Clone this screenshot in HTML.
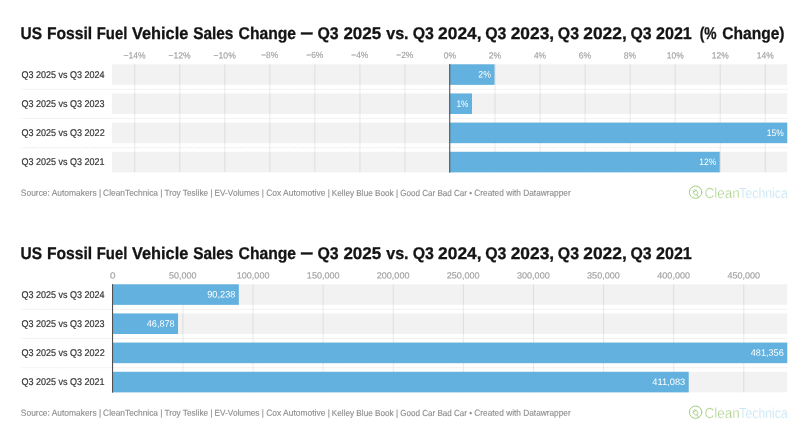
<!DOCTYPE html>
<html lang="en">
<head>
<meta charset="utf-8">
<title>US Fossil Fuel Vehicle Sales Change</title>
<style>
html,body{margin:0;padding:0;background:#fff;}
body{width:800px;height:445px;overflow:hidden;font-family:"Liberation Sans",sans-serif;}
svg{display:block;}
text{font-family:"Liberation Sans",sans-serif;text-rendering:geometricPrecision;}
.title{font-size:17.0px;font-weight:bold;fill:#141414;stroke:#141414;stroke-width:0.3px;}
.tick{font-size:9.0px;fill:#a2a2a2;stroke:#a2a2a2;stroke-width:0.15px;}
.lab{font-size:9.8px;fill:#333;stroke:#333;stroke-width:0.2px;}
.val{font-size:9.3px;fill:#fff;}
.foot{font-size:8.8px;fill:#8c8c8c;stroke:#8c8c8c;stroke-width:0.12px;}
.logo{font-size:14.6px;stroke:#fff;stroke-width:0.4px;paint-order:fill stroke;}
</style>
</head>
<body>
<svg width="800" height="445" viewBox="0 0 800 445">
<rect width="800" height="445" fill="#fff"/>
<text class="title" transform="translate(20.57 39.10) skewY(0.03)" textLength="21.54" lengthAdjust="spacingAndGlyphs">US</text>
<text class="title" transform="translate(46.95 39.10) skewY(0.03)" textLength="45.15" lengthAdjust="spacingAndGlyphs">Fossil</text>
<text class="title" transform="translate(96.76 39.10) skewY(0.03)" textLength="30.55" lengthAdjust="spacingAndGlyphs">Fuel</text>
<text class="title" transform="translate(131.99 39.10) skewY(0.03)" textLength="56.36" lengthAdjust="spacingAndGlyphs">Vehicle</text>
<text class="title" transform="translate(193.16 39.10) skewY(0.03)" textLength="40.28" lengthAdjust="spacingAndGlyphs">Sales</text>
<text class="title" transform="translate(238.56 39.10) skewY(0.03)" textLength="57.48" lengthAdjust="spacingAndGlyphs">Change</text>
<text class="title" transform="translate(301.00 38.10) skewY(0.03)" textLength="11.50" lengthAdjust="spacingAndGlyphs" style="stroke-width:0.55px">—</text>
<text class="title" transform="translate(317.45 39.10) skewY(0.03)" textLength="21.23" lengthAdjust="spacingAndGlyphs">Q3</text>
<text class="title" transform="translate(343.41 39.10) skewY(0.03)" textLength="37.86" lengthAdjust="spacingAndGlyphs">2025</text>
<text class="title" transform="translate(386.19 39.10) skewY(0.03)" textLength="22.42" lengthAdjust="spacingAndGlyphs">vs.</text>
<text class="title" transform="translate(412.65 39.10) skewY(0.03)" textLength="21.23" lengthAdjust="spacingAndGlyphs">Q3</text>
<text class="title" transform="translate(438.10 39.10) skewY(0.03)" textLength="43.46" lengthAdjust="spacingAndGlyphs">2024,</text>
<text class="title" transform="translate(485.25 39.10) skewY(0.03)" textLength="21.23" lengthAdjust="spacingAndGlyphs">Q3</text>
<text class="title" transform="translate(510.70 39.10) skewY(0.03)" textLength="43.46" lengthAdjust="spacingAndGlyphs">2023,</text>
<text class="title" transform="translate(557.85 39.10) skewY(0.03)" textLength="21.23" lengthAdjust="spacingAndGlyphs">Q3</text>
<text class="title" transform="translate(583.30 39.10) skewY(0.03)" textLength="43.46" lengthAdjust="spacingAndGlyphs">2022,</text>
<text class="title" transform="translate(630.45 39.10) skewY(0.03)" textLength="21.23" lengthAdjust="spacingAndGlyphs">Q3</text>
<text class="title" transform="translate(655.94 39.10) skewY(0.03)" textLength="35.91" lengthAdjust="spacingAndGlyphs">2021</text>
<text class="title" transform="translate(699.71 39.10) skewY(0.03)" textLength="16.90" lengthAdjust="spacingAndGlyphs">(%</text>
<text class="title" transform="translate(722.26 39.10) skewY(0.03)" textLength="62.26" lengthAdjust="spacingAndGlyphs">Change)</text>
<rect x="112.0" y="64.30" width="675.25" height="20.55" fill="#f2f2f2"/>
<rect x="112.0" y="93.45" width="675.25" height="20.55" fill="#f2f2f2"/>
<rect x="112.0" y="122.60" width="675.25" height="20.55" fill="#f2f2f2"/>
<rect x="112.0" y="151.80" width="675.25" height="20.55" fill="#f2f2f2"/>
<rect x="134.27" y="64.30" width="1" height="108.05" fill="#000" fill-opacity="0.085"/>
<text class="tick" transform="translate(123.49 58.40) skewY(0.03)" textLength="22.23" lengthAdjust="spacingAndGlyphs">−14%</text>
<rect x="179.30" y="64.30" width="1" height="108.05" fill="#000" fill-opacity="0.085"/>
<text class="tick" transform="translate(168.53 58.40) skewY(0.03)" textLength="22.23" lengthAdjust="spacingAndGlyphs">−12%</text>
<rect x="224.33" y="64.30" width="1" height="108.05" fill="#000" fill-opacity="0.085"/>
<text class="tick" transform="translate(213.56 58.40) skewY(0.03)" textLength="22.23" lengthAdjust="spacingAndGlyphs">−10%</text>
<rect x="269.37" y="64.30" width="1" height="108.05" fill="#000" fill-opacity="0.085"/>
<text class="tick" transform="translate(261.20 58.40) skewY(0.03)" textLength="17.01" lengthAdjust="spacingAndGlyphs">−8%</text>
<rect x="314.40" y="64.30" width="1" height="108.05" fill="#000" fill-opacity="0.085"/>
<text class="tick" transform="translate(306.24 58.40) skewY(0.03)" textLength="17.01" lengthAdjust="spacingAndGlyphs">−6%</text>
<rect x="359.43" y="64.30" width="1" height="108.05" fill="#000" fill-opacity="0.085"/>
<text class="tick" transform="translate(351.27 58.40) skewY(0.03)" textLength="17.01" lengthAdjust="spacingAndGlyphs">−4%</text>
<rect x="404.47" y="64.30" width="1" height="108.05" fill="#000" fill-opacity="0.085"/>
<text class="tick" transform="translate(396.30 58.40) skewY(0.03)" textLength="17.01" lengthAdjust="spacingAndGlyphs">−2%</text>
<rect x="449.50" y="64.30" width="1" height="108.05" fill="#000" fill-opacity="0.085"/>
<text class="tick" transform="translate(443.72 58.40) skewY(0.03)" textLength="12.34" lengthAdjust="spacingAndGlyphs">0%</text>
<rect x="494.53" y="64.30" width="1" height="108.05" fill="#000" fill-opacity="0.085"/>
<text class="tick" transform="translate(488.65 58.40) skewY(0.03)" textLength="12.44" lengthAdjust="spacingAndGlyphs">2%</text>
<rect x="539.57" y="64.30" width="1" height="108.05" fill="#000" fill-opacity="0.085"/>
<text class="tick" transform="translate(533.92 58.40) skewY(0.03)" textLength="12.19" lengthAdjust="spacingAndGlyphs">4%</text>
<rect x="584.60" y="64.30" width="1" height="108.05" fill="#000" fill-opacity="0.085"/>
<text class="tick" transform="translate(578.71 58.40) skewY(0.03)" textLength="12.44" lengthAdjust="spacingAndGlyphs">6%</text>
<rect x="629.63" y="64.30" width="1" height="108.05" fill="#000" fill-opacity="0.085"/>
<text class="tick" transform="translate(623.81 58.40) skewY(0.03)" textLength="12.38" lengthAdjust="spacingAndGlyphs">8%</text>
<rect x="674.67" y="64.30" width="1" height="108.05" fill="#000" fill-opacity="0.085"/>
<text class="tick" transform="translate(666.77 58.40) skewY(0.03)" textLength="16.95" lengthAdjust="spacingAndGlyphs">10%</text>
<rect x="719.70" y="64.30" width="1" height="108.05" fill="#000" fill-opacity="0.085"/>
<text class="tick" transform="translate(711.81 58.40) skewY(0.03)" textLength="16.95" lengthAdjust="spacingAndGlyphs">12%</text>
<rect x="764.73" y="64.30" width="1" height="108.05" fill="#000" fill-opacity="0.085"/>
<text class="tick" transform="translate(756.84 58.40) skewY(0.03)" textLength="16.95" lengthAdjust="spacingAndGlyphs">14%</text>
<line x1="21.5" x2="787.25" y1="89.35" y2="89.35" stroke="#e6e6e6" stroke-width="0.8" stroke-dasharray="1.6 1"/>
<line x1="21.5" x2="787.25" y1="118.50" y2="118.50" stroke="#e6e6e6" stroke-width="0.8" stroke-dasharray="1.6 1"/>
<line x1="21.5" x2="787.25" y1="147.65" y2="147.65" stroke="#e6e6e6" stroke-width="0.8" stroke-dasharray="1.6 1"/>
<rect x="449.50" y="64.30" width="45.03" height="20.55" fill="#62b1de"/>
<text class="val" transform="translate(478.34 77.50) skewY(0.03)" textLength="12.65" lengthAdjust="spacingAndGlyphs">2%</text>
<text class="lab" transform="translate(21.47 77.95) skewY(0.03)" textLength="82.99" lengthAdjust="spacingAndGlyphs">Q3 2025 vs Q3 2024</text>
<rect x="449.50" y="93.45" width="22.52" height="20.55" fill="#62b1de"/>
<text class="val" transform="translate(456.43 106.65) skewY(0.03)" textLength="12.03" lengthAdjust="spacingAndGlyphs">1%</text>
<text class="lab" transform="translate(21.47 107.10) skewY(0.03)" textLength="83.12" lengthAdjust="spacingAndGlyphs">Q3 2025 vs Q3 2023</text>
<rect x="449.50" y="122.60" width="337.75" height="20.55" fill="#62b1de"/>
<text class="val" transform="translate(766.76 135.80) skewY(0.03)" textLength="16.95" lengthAdjust="spacingAndGlyphs">15%</text>
<text class="lab" transform="translate(21.47 136.25) skewY(0.03)" textLength="83.18" lengthAdjust="spacingAndGlyphs">Q3 2025 vs Q3 2022</text>
<rect x="449.50" y="151.80" width="270.20" height="20.55" fill="#62b1de"/>
<text class="val" transform="translate(699.21 165.00) skewY(0.03)" textLength="16.95" lengthAdjust="spacingAndGlyphs">12%</text>
<text class="lab" transform="translate(21.47 165.45) skewY(0.03)" textLength="83.17" lengthAdjust="spacingAndGlyphs">Q3 2025 vs Q3 2021</text>
<rect x="449.20" y="64.10" width="1.05" height="108.55" fill="#505050"/>
<text class="foot" transform="translate(20.87 195.80) skewY(0.03)" textLength="80.28" lengthAdjust="spacingAndGlyphs">Source: Automakers |</text>
<text class="foot" transform="translate(103.08 195.80) skewY(0.03)" textLength="59.46" lengthAdjust="spacingAndGlyphs">CleanTechnica |</text>
<text class="foot" transform="translate(164.42 195.80) skewY(0.03)" textLength="48.20" lengthAdjust="spacingAndGlyphs">Troy Teslike |</text>
<text class="foot" transform="translate(214.59 195.80) skewY(0.03)" textLength="49.29" lengthAdjust="spacingAndGlyphs">EV-Volumes |</text>
<text class="foot" transform="translate(266.17 195.80) skewY(0.03)" textLength="63.73" lengthAdjust="spacingAndGlyphs">Cox Automotive |</text>
<text class="foot" transform="translate(331.83 195.80) skewY(0.03)" textLength="66.20" lengthAdjust="spacingAndGlyphs">Kelley Blue Book |</text>
<text class="foot" transform="translate(400.19 195.80) skewY(0.03)" textLength="71.93" lengthAdjust="spacingAndGlyphs">Good Car Bad Car •</text>
<text class="foot" transform="translate(474.33 195.80) skewY(0.03)" textLength="96.41" lengthAdjust="spacingAndGlyphs">Created with Datawrapper</text>
<g fill="none" stroke="#a3cc80" stroke-width="1" stroke-linecap="round" stroke-linejoin="round"><circle cx="695.6" cy="192.20" r="6.2"/><g transform="translate(695.60 192.60) rotate(-32)" stroke-width="0.8"><path d="M-1.9 -1.6 h3.8 v2 a1.9 2.1 0 0 1 -3.8 0 z M0 2.5 v3 M-1 -1.6 v-1.5 M1 -1.6 v-1.5"/></g></g>
<text class="logo" transform="translate(704.51 197.50) skewY(0.03)" textLength="35.37" lengthAdjust="spacingAndGlyphs" fill="#9fcb7b">Clean</text>
<text class="logo" transform="translate(739.33 197.50) skewY(0.03)" textLength="48.37" lengthAdjust="spacingAndGlyphs" fill="#b5dbf0">Technica</text>
<text class="title" transform="translate(20.57 259.10) skewY(0.03)" textLength="21.54" lengthAdjust="spacingAndGlyphs">US</text>
<text class="title" transform="translate(46.95 259.10) skewY(0.03)" textLength="45.15" lengthAdjust="spacingAndGlyphs">Fossil</text>
<text class="title" transform="translate(96.76 259.10) skewY(0.03)" textLength="30.55" lengthAdjust="spacingAndGlyphs">Fuel</text>
<text class="title" transform="translate(131.99 259.10) skewY(0.03)" textLength="56.36" lengthAdjust="spacingAndGlyphs">Vehicle</text>
<text class="title" transform="translate(193.16 259.10) skewY(0.03)" textLength="40.28" lengthAdjust="spacingAndGlyphs">Sales</text>
<text class="title" transform="translate(238.56 259.10) skewY(0.03)" textLength="57.48" lengthAdjust="spacingAndGlyphs">Change</text>
<text class="title" transform="translate(301.00 258.10) skewY(0.03)" textLength="11.50" lengthAdjust="spacingAndGlyphs" style="stroke-width:0.55px">—</text>
<text class="title" transform="translate(317.45 259.10) skewY(0.03)" textLength="21.23" lengthAdjust="spacingAndGlyphs">Q3</text>
<text class="title" transform="translate(343.41 259.10) skewY(0.03)" textLength="37.86" lengthAdjust="spacingAndGlyphs">2025</text>
<text class="title" transform="translate(386.19 259.10) skewY(0.03)" textLength="22.42" lengthAdjust="spacingAndGlyphs">vs.</text>
<text class="title" transform="translate(412.65 259.10) skewY(0.03)" textLength="21.23" lengthAdjust="spacingAndGlyphs">Q3</text>
<text class="title" transform="translate(438.10 259.10) skewY(0.03)" textLength="43.46" lengthAdjust="spacingAndGlyphs">2024,</text>
<text class="title" transform="translate(485.25 259.10) skewY(0.03)" textLength="21.23" lengthAdjust="spacingAndGlyphs">Q3</text>
<text class="title" transform="translate(510.70 259.10) skewY(0.03)" textLength="43.46" lengthAdjust="spacingAndGlyphs">2023,</text>
<text class="title" transform="translate(557.85 259.10) skewY(0.03)" textLength="21.23" lengthAdjust="spacingAndGlyphs">Q3</text>
<text class="title" transform="translate(583.30 259.10) skewY(0.03)" textLength="43.46" lengthAdjust="spacingAndGlyphs">2022,</text>
<text class="title" transform="translate(630.45 259.10) skewY(0.03)" textLength="21.23" lengthAdjust="spacingAndGlyphs">Q3</text>
<text class="title" transform="translate(655.94 259.10) skewY(0.03)" textLength="35.91" lengthAdjust="spacingAndGlyphs">2021</text>
<rect x="112.0" y="284.30" width="675.25" height="20.55" fill="#f2f2f2"/>
<rect x="112.0" y="313.45" width="675.25" height="20.55" fill="#f2f2f2"/>
<rect x="112.0" y="342.60" width="675.25" height="20.55" fill="#f2f2f2"/>
<rect x="112.0" y="371.80" width="675.25" height="20.55" fill="#f2f2f2"/>
<rect x="112.30" y="284.30" width="1" height="108.05" fill="#000" fill-opacity="0.085"/>
<text class="tick" transform="translate(109.94 278.40) skewY(0.03)" textLength="5.53" lengthAdjust="spacingAndGlyphs">0</text>
<rect x="182.41" y="284.30" width="1" height="108.05" fill="#000" fill-opacity="0.085"/>
<text class="tick" transform="translate(169.00 278.40) skewY(0.03)" textLength="27.61" lengthAdjust="spacingAndGlyphs">50,000</text>
<rect x="252.52" y="284.30" width="1" height="108.05" fill="#000" fill-opacity="0.085"/>
<text class="tick" transform="translate(236.73 278.40) skewY(0.03)" textLength="32.74" lengthAdjust="spacingAndGlyphs">100,000</text>
<rect x="322.63" y="284.30" width="1" height="108.05" fill="#000" fill-opacity="0.085"/>
<text class="tick" transform="translate(306.84 278.40) skewY(0.03)" textLength="32.74" lengthAdjust="spacingAndGlyphs">150,000</text>
<rect x="392.74" y="284.30" width="1" height="108.05" fill="#000" fill-opacity="0.085"/>
<text class="tick" transform="translate(376.63 278.40) skewY(0.03)" textLength="32.91" lengthAdjust="spacingAndGlyphs">200,000</text>
<rect x="462.85" y="284.30" width="1" height="108.05" fill="#000" fill-opacity="0.085"/>
<text class="tick" transform="translate(446.74 278.40) skewY(0.03)" textLength="32.91" lengthAdjust="spacingAndGlyphs">250,000</text>
<rect x="532.96" y="284.30" width="1" height="108.05" fill="#000" fill-opacity="0.085"/>
<text class="tick" transform="translate(516.96 278.40) skewY(0.03)" textLength="32.80" lengthAdjust="spacingAndGlyphs">300,000</text>
<rect x="603.06" y="284.30" width="1" height="108.05" fill="#000" fill-opacity="0.085"/>
<text class="tick" transform="translate(587.07 278.40) skewY(0.03)" textLength="32.80" lengthAdjust="spacingAndGlyphs">350,000</text>
<rect x="673.17" y="284.30" width="1" height="108.05" fill="#000" fill-opacity="0.085"/>
<text class="tick" transform="translate(657.32 278.40) skewY(0.03)" textLength="32.66" lengthAdjust="spacingAndGlyphs">400,000</text>
<rect x="743.28" y="284.30" width="1" height="108.05" fill="#000" fill-opacity="0.085"/>
<text class="tick" transform="translate(727.43 278.40) skewY(0.03)" textLength="32.66" lengthAdjust="spacingAndGlyphs">450,000</text>
<line x1="21.5" x2="787.25" y1="309.35" y2="309.35" stroke="#e6e6e6" stroke-width="0.8" stroke-dasharray="1.6 1"/>
<line x1="21.5" x2="787.25" y1="338.50" y2="338.50" stroke="#e6e6e6" stroke-width="0.8" stroke-dasharray="1.6 1"/>
<line x1="21.5" x2="787.25" y1="367.65" y2="367.65" stroke="#e6e6e6" stroke-width="0.8" stroke-dasharray="1.6 1"/>
<rect x="112.30" y="284.30" width="126.53" height="20.55" fill="#62b1de"/>
<text class="val" transform="translate(207.25 297.50) skewY(0.03)" textLength="28.13" lengthAdjust="spacingAndGlyphs">90,238</text>
<text class="lab" transform="translate(21.47 297.95) skewY(0.03)" textLength="82.99" lengthAdjust="spacingAndGlyphs">Q3 2025 vs Q3 2024</text>
<rect x="112.30" y="313.45" width="65.73" height="20.55" fill="#62b1de"/>
<text class="val" transform="translate(146.77 326.65) skewY(0.03)" textLength="27.80" lengthAdjust="spacingAndGlyphs">46,878</text>
<text class="lab" transform="translate(21.47 327.10) skewY(0.03)" textLength="83.12" lengthAdjust="spacingAndGlyphs">Q3 2025 vs Q3 2023</text>
<rect x="112.30" y="342.60" width="674.95" height="20.55" fill="#62b1de"/>
<text class="val" transform="translate(750.69 355.80) skewY(0.03)" textLength="33.11" lengthAdjust="spacingAndGlyphs">481,356</text>
<text class="lab" transform="translate(21.47 356.25) skewY(0.03)" textLength="83.18" lengthAdjust="spacingAndGlyphs">Q3 2025 vs Q3 2022</text>
<rect x="112.30" y="371.80" width="576.41" height="20.55" fill="#62b1de"/>
<text class="val" transform="translate(652.25 385.00) skewY(0.03)" textLength="33.01" lengthAdjust="spacingAndGlyphs">411,083</text>
<text class="lab" transform="translate(21.47 385.45) skewY(0.03)" textLength="83.17" lengthAdjust="spacingAndGlyphs">Q3 2025 vs Q3 2021</text>
<rect x="112.00" y="284.10" width="1.05" height="108.55" fill="#505050"/>
<text class="foot" transform="translate(20.87 415.80) skewY(0.03)" textLength="80.28" lengthAdjust="spacingAndGlyphs">Source: Automakers |</text>
<text class="foot" transform="translate(103.08 415.80) skewY(0.03)" textLength="59.46" lengthAdjust="spacingAndGlyphs">CleanTechnica |</text>
<text class="foot" transform="translate(164.42 415.80) skewY(0.03)" textLength="48.20" lengthAdjust="spacingAndGlyphs">Troy Teslike |</text>
<text class="foot" transform="translate(214.59 415.80) skewY(0.03)" textLength="49.29" lengthAdjust="spacingAndGlyphs">EV-Volumes |</text>
<text class="foot" transform="translate(266.17 415.80) skewY(0.03)" textLength="63.73" lengthAdjust="spacingAndGlyphs">Cox Automotive |</text>
<text class="foot" transform="translate(331.83 415.80) skewY(0.03)" textLength="66.20" lengthAdjust="spacingAndGlyphs">Kelley Blue Book |</text>
<text class="foot" transform="translate(400.19 415.80) skewY(0.03)" textLength="71.93" lengthAdjust="spacingAndGlyphs">Good Car Bad Car •</text>
<text class="foot" transform="translate(474.33 415.80) skewY(0.03)" textLength="96.41" lengthAdjust="spacingAndGlyphs">Created with Datawrapper</text>
<g fill="none" stroke="#a3cc80" stroke-width="1" stroke-linecap="round" stroke-linejoin="round"><circle cx="695.6" cy="412.20" r="6.2"/><g transform="translate(695.60 412.60) rotate(-32)" stroke-width="0.8"><path d="M-1.9 -1.6 h3.8 v2 a1.9 2.1 0 0 1 -3.8 0 z M0 2.5 v3 M-1 -1.6 v-1.5 M1 -1.6 v-1.5"/></g></g>
<text class="logo" transform="translate(704.51 417.50) skewY(0.03)" textLength="35.37" lengthAdjust="spacingAndGlyphs" fill="#9fcb7b">Clean</text>
<text class="logo" transform="translate(739.33 417.50) skewY(0.03)" textLength="48.37" lengthAdjust="spacingAndGlyphs" fill="#b5dbf0">Technica</text>
</svg>
</body>
</html>
